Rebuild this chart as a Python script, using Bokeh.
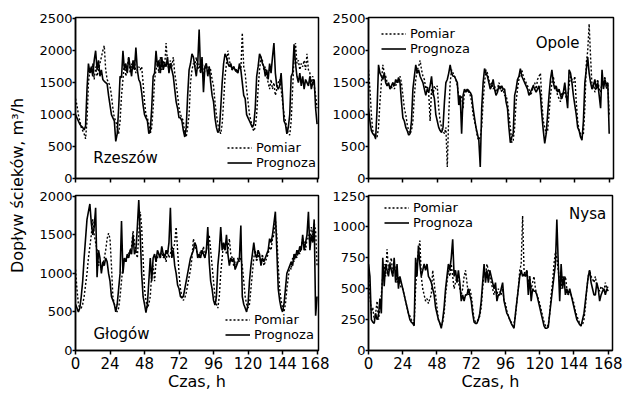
from bokeh.plotting import figure
from bokeh.models import Range1d, Label, Legend, LegendItem, FixedTicker
from bokeh.layouts import row, column
from bokeh.embed import file_html
from bokeh.resources import INLINE

FONT = "DejaVu Sans"

hour_ticks = [0, 24, 48, 72, 96, 120, 144, 168]
ticks_2500 = [0, 500, 1000, 1500, 2000, 2500]
ticks_2000 = [0, 500, 1000, 1500, 2000]
ticks_1250 = [0, 250, 500, 750, 1000, 1250]

y_title = "Dopływ ścieków, m³/h"
x_title = "Czas, h"
series_names = ["Pomiar", "Prognoza"]

rzeszow_prognoza = [
    1000, 950, 900, 850, 820, 800, 760, 820, 1400, 1800, 1650, 1750,
    1600, 1850, 2000, 1700, 1850, 1600, 1700, 1550, 1520, 1500, 1480, 1300,
    1150, 1000, 950, 900, 580, 700, 1100, 1600, 1580, 2000, 1700, 1800,
    1650, 1900, 1750, 1600, 1850, 1700, 2050, 1700, 1550, 1500, 1350, 1150,
    1000, 950, 900, 700, 750, 1100, 1600, 1650, 2000, 1750, 1850, 1650,
    1900, 1700, 1800, 1750, 1900, 1650, 1800, 1700, 1600, 1400, 1200, 1100,
    950, 950, 900, 750, 650, 800, 1300, 1700, 1800, 1950, 1900, 1750,
    1600, 1800, 2330, 1650, 1900, 1350, 1750, 1800, 1600, 1750, 1500, 1300,
    1200, 950, 800, 720, 750, 1100, 1500, 1800, 1950, 1900, 1800, 1750,
    1800, 1700, 1750, 1700, 1700, 1650, 1800, 1700, 1500, 1300, 1250, 1000,
    950, 900, 850, 800, 850, 1100, 1600, 1750, 1950, 1900, 1800, 1750,
    1600, 1700, 1550, 1800, 1650, 1900, 2120, 1650, 1450, 1400, 1450, 1650,
    1300, 900, 850, 700, 800, 1000, 1600, 1650, 2100, 1800, 1600, 1500,
    1650, 1450, 1600, 1400, 1550, 1500, 1450, 1600, 1400, 1500, 1550, 1100,
    850]

rzeszow_pomiar = [
    1250, 1150, 1000, 900, 800, 750, 700, 620, 900, 1500, 1700, 1650,
    1800, 1550, 1750, 1600, 1700, 1800, 1900, 2000, 2080, 1700, 1550, 1500,
    1450, 1300, 1100, 950, 900, 800, 700, 900, 1300, 1550, 1800, 1600,
    1750, 1900, 1650, 1800, 1700, 1850, 1650, 1700, 1750, 1700, 1750, 1500,
    1200, 1000, 950, 850, 700, 800, 1100, 1550, 1700, 1800, 1650, 1900,
    1700, 1850, 1750, 2120, 1800, 1700, 1850, 1750, 1900, 1650, 1500, 1300,
    1100, 1000, 950, 900, 700, 650, 800, 1000, 1500, 1700, 1800, 1750,
    1900, 1700, 1800, 1650, 1850, 1600, 1700, 1800, 1650, 1750, 1700, 1550,
    1450, 1200, 1000, 850, 750, 700, 850, 1200, 1600, 1800, 2000, 1850,
    1750, 1700, 1750, 1700, 1650, 1700, 1750, 1700, 2280, 1750, 1650, 1400,
    1200, 1000, 900, 800, 740, 800, 1000, 1400, 1700, 1900, 1850, 1700,
    1750, 1600, 1500, 1400, 1550, 1400, 1500, 1300, 1400, 1500, 1550, 1400,
    1200, 1000, 900, 800, 700, 680, 900, 1400, 1900, 2120, 1800, 1850,
    1700, 1800, 1750, 1850, 1700, 1950, 1700, 1650, 1500, 1600, 1450, 1300,
    1100]

opole_prognoza = [
    1100, 900, 750, 700, 680, 630, 1100, 1780, 1650, 1600, 1550, 1650,
    1500, 1450, 1500, 1400, 1450, 1500, 1450, 1550, 1500, 1580, 1500, 1200,
    950, 900, 800, 750, 680, 700, 900, 1400, 1600, 1780, 1650, 1700,
    1600, 1550, 1500, 1400, 1300, 1400, 1350, 1450, 1600, 1350, 1250, 1000,
    900, 800, 750, 720, 800, 1200, 1500, 1550, 1650, 1780, 1650, 1600,
    1600, 1550, 1500, 1150, 1300, 700, 1300, 1400, 1350, 1400, 1350, 1350,
    1300, 1100, 950, 800, 700, 600, 180, 1100, 1500, 1720, 1650, 1600,
    1500, 1400, 1450, 1550, 1400, 1300, 1350, 1450, 1400, 1450, 1400, 1400,
    1200, 1100, 800, 560, 650, 700, 1300, 1400, 1550, 1600, 1720, 1600,
    1550, 1500, 1450, 1400, 1300, 1350, 1400, 1450, 1400, 1350, 1400, 1450,
    1300, 1000, 750, 550, 700, 1000, 1300, 1550, 1700, 1500, 1400, 1450,
    1350, 1400, 1300, 1250, 1350, 1500, 1300, 1100, 1700, 1650, 1500, 1300,
    1150, 1000, 800, 750, 650, 600, 900, 1500, 1700, 1900, 1650, 1500,
    1400, 1450, 1550, 1400, 1500, 1300, 1100, 1700, 1400, 1550, 1450, 1500,
    700]

opole_pomiar = [
    1700, 1400, 1000, 750, 680, 620, 650, 800, 1200, 1500, 1780, 1650,
    1600, 1500, 1450, 1450, 1400, 1500, 1400, 1450, 1550, 1500, 1600, 1500,
    1300, 1100, 1000, 850, 750, 700, 750, 900, 1300, 1550, 1700, 1750,
    1850, 1700, 1600, 1550, 1400, 1450, 1350, 900, 1400, 1300, 1450, 1400,
    1450, 1100, 900, 800, 750, 700, 800, 180, 1000, 1500, 1700, 1650,
    1600, 1550, 1450, 1300, 1250, 1300, 1100, 1350, 1400, 1350, 1400, 1300,
    1200, 1000, 900, 800, 650, 600, 650, 800, 1200, 1500, 1700, 1650,
    1550, 1450, 1500, 1400, 1450, 1350, 1400, 1500, 1450, 1350, 1400, 1300,
    1300, 1200, 1000, 800, 560, 600, 800, 1200, 1400, 1550, 1650, 1700,
    1600, 1550, 1500, 1450, 1400, 1300, 1350, 1450, 1500, 1400, 1550, 1600,
    1650, 1200, 900, 800, 700, 750, 1000, 1300, 1500, 1600, 1450, 1400,
    1300, 1250, 1200, 1350, 1300, 1400, 1250, 1300, 1450, 1600, 1550, 1500,
    1600, 1200, 900, 750, 700, 650, 700, 1100, 1800, 2000, 2420, 1900,
    1450, 1500, 1350, 1450, 1550, 1400, 1350, 1500, 1450, 1600, 1400, 1500,
    1000]

glogow_prognoza = [
    600, 550, 500, 550, 700, 900, 1200, 1450, 1700, 1800, 1900, 1650,
    1500, 1600, 1850, 950, 1300, 1200, 1000, 1150, 1100, 1200, 1150, 1000,
    900, 700, 650, 600, 500, 600, 800, 1000, 1680, 1000, 1200, 1150,
    1250, 1200, 1300, 1250, 1500, 1250, 1300, 1600, 1950, 1500, 1000, 700,
    600, 490, 600, 900, 1200, 900, 1200, 1250, 1150, 1300, 1250, 1200,
    1350, 1250, 1200, 1300, 1250, 1400, 1850, 1200, 1300, 1100, 1000, 850,
    800, 700, 680, 700, 800, 900, 1000, 1100, 1200, 1250, 1300, 1400,
    1350, 1200, 1250, 1200, 1300, 1250, 1200, 1300, 1600, 1150, 900, 800,
    650, 590, 700, 1100, 1300, 1600, 1300, 1400, 1300, 1500, 1250, 1100,
    1200, 1150, 1200, 1050, 1100, 1150, 1200, 1620, 700, 600, 550, 500,
    600, 900, 1100, 1250, 1400, 1250, 1200, 1300, 1250, 1100, 1200, 1150,
    1200, 1250, 1300, 1450, 1400, 1500, 1650, 1800, 1300, 800, 650, 550,
    500, 600, 800, 1000, 1050, 1100, 1150, 1100, 1250, 1200, 1300, 1250,
    1350, 1300, 1500, 1300, 1400, 1500, 1800, 1300, 1500, 1400, 1700, 450,
    700]

glogow_pomiar = [
    1050, 800, 600, 550, 550, 600, 700, 850, 1000, 1200, 1350, 1500,
    1700, 1500, 1400, 1300, 1100, 1150, 1050, 1100, 1200, 1300, 1450, 1520,
    1450, 1100, 700, 600, 550, 500, 550, 700, 900, 1100, 1200, 1150,
    1200, 1250, 1300, 1350, 1550, 1400, 1300, 1200, 1500, 1800, 1600, 1200,
    800, 650, 550, 600, 700, 1000, 1100, 900, 1150, 1200, 1250, 1200,
    1300, 1200, 1250, 1150, 1300, 1200, 1250, 1350, 1300, 1400, 1600, 1300,
    1000, 800, 700, 650, 680, 750, 850, 950, 1050, 1200, 1450, 1350,
    1300, 1250, 1200, 1300, 1250, 1350, 1200, 1300, 1400, 1500, 1300, 1100,
    900, 700, 600, 550, 700, 1000, 1200, 1400, 1350, 1250, 1300, 1450,
    1250, 1200, 1100, 1150, 1100, 1200, 1150, 1200, 1100, 900, 700, 600,
    550, 600, 800, 1000, 1200, 1300, 1150, 1250, 1200, 1150, 1250, 1100,
    1150, 1200, 1250, 1350, 1300, 1450, 1500, 1700, 1500, 1100, 800, 650,
    550, 500, 600, 800, 950, 1100, 1050, 1200, 1150, 1250, 1200, 1300,
    1250, 1350, 1450, 1400, 1300, 1450, 1500, 1400, 1600, 1500, 1650, 1550,
    1100]

nysa_prognoza = [
    700, 600, 250, 230, 220, 300, 250, 280, 420, 300, 750, 520,
    700, 650, 600, 700, 650, 600, 750, 550, 700, 500, 600, 550,
    500, 450, 400, 350, 300, 250, 230, 220, 200, 750, 600, 850,
    700, 600, 650, 700, 650, 700, 600, 580, 550, 500, 450, 350,
    300, 250, 220, 180, 250, 350, 500, 600, 700, 650, 750, 900,
    600, 650, 550, 650, 550, 400, 450, 400, 450, 450, 500, 450,
    400, 300, 230, 220, 220, 250, 300, 400, 550, 700, 550, 650,
    550, 650, 600, 550, 500, 550, 400, 450, 450, 500, 550, 400,
    350, 300, 280, 250, 220, 200, 180, 300, 400, 500, 600, 650,
    600, 620, 600, 650, 450, 600, 400, 500, 480, 480, 450, 400,
    350, 300, 250, 200, 180, 180, 190, 300, 400, 500, 600, 700,
    1060, 700, 400, 700, 500, 600, 450, 500, 450, 500, 450, 400,
    350, 300, 250, 230, 210, 200, 250, 300, 400, 500, 600, 650,
    550, 500, 450, 450, 550, 500, 400, 450, 480, 500, 450, 500,
    480]

nysa_pomiar = [
    600, 450, 300, 350, 250, 300, 400, 250, 350, 450, 600, 700,
    600, 820, 650, 700, 750, 600, 700, 650, 550, 600, 550, 500,
    500, 450, 400, 350, 300, 280, 250, 230, 220, 500, 700, 800,
    890, 600, 500, 450, 400, 420, 380, 420, 450, 650, 550, 450,
    350, 250, 220, 200, 230, 300, 450, 550, 650, 600, 700, 600,
    500, 550, 600, 550, 500, 450, 500, 600, 650, 550, 450, 500,
    450, 350, 250, 230, 240, 250, 280, 350, 500, 650, 600, 700,
    650, 600, 550, 500, 450, 500, 450, 500, 480, 450, 500, 400,
    380, 320, 280, 250, 230, 200, 220, 280, 400, 500, 650, 700,
    1090, 650, 600, 650, 550, 600, 500, 550, 600, 500, 450, 420,
    380, 330, 280, 230, 200, 190, 210, 300, 450, 550, 700, 800,
    750, 650, 550, 500, 600, 550, 600, 500, 450, 480, 450, 420,
    380, 320, 280, 250, 220, 200, 210, 250, 350, 500, 600, 650,
    600, 580, 550, 600, 520, 500, 480, 520, 500, 480, 550, 500,
    520]


def make_panel(width, height, mb, x_end, y_end, y_ticks, show_x_labels):
    p = figure(width=width, height=height, output_backend="svg", toolbar_location=None,
               x_range=Range1d(0, x_end), y_range=Range1d(0, y_end),
               min_border_left=mb[0], min_border_right=mb[1],
               min_border_top=mb[2], min_border_bottom=mb[3])
    p.xgrid.visible = False
    p.ygrid.visible = False
    p.outline_line_color = "black"
    p.outline_line_width = 1.5
    p.background_fill_color = "white"
    p.border_fill_color = "white"
    p.xaxis.ticker = FixedTicker(ticks=hour_ticks)
    p.yaxis.ticker = FixedTicker(ticks=y_ticks)
    for ax in (p.xaxis[0], p.yaxis[0]):
        ax.axis_line_color = "black"
        ax.axis_line_width = 1.5
        ax.major_tick_in = 0
        ax.major_tick_out = 4
        ax.major_tick_line_color = "black"
        ax.major_tick_line_width = 1.5
        ax.minor_tick_line_color = None
        ax.major_label_text_font = FONT
        ax.major_label_text_color = "black"
    p.yaxis.major_tick_out = 3
    p.yaxis.major_label_standoff = 0
    p.yaxis.major_label_text_font_size = "13px"
    if show_x_labels:
        p.xaxis.major_label_text_font_size = "15px"
        p.xaxis.major_label_standoff = 2
        p.xaxis.axis_label = x_title
        p.xaxis.axis_label_text_font = FONT
        p.xaxis.axis_label_text_font_size = "16px"
        p.xaxis.axis_label_text_font_style = "normal"
        p.xaxis.axis_label_text_color = "black"
        p.xaxis.axis_label_standoff = 0
    else:
        # tick marks only, no labels (as in the reference's upper panels)
        p.xaxis.major_label_overrides = {t: "" for t in hour_ticks}
        p.xaxis.major_label_text_font_size = "1px"
        p.xaxis.major_label_standoff = 0
    return p


def add_series(p, pomiar, prognoza, loc):
    r1 = p.line(list(range(len(pomiar))), pomiar, line_color="black", line_width=1.4,
                line_dash="2 2")
    r2 = p.line(list(range(len(prognoza))), prognoza, line_color="black", line_width=1.6)
    leg = Legend(items=[LegendItem(label=series_names[0], renderers=[r1]),
                        LegendItem(label=series_names[1], renderers=[r2])],
                 location=loc, border_line_color=None, background_fill_alpha=0,
                 padding=0, margin=0, spacing=0, label_standoff=4,
                 glyph_width=25, glyph_height=13, label_height=13,
                 label_text_font=FONT, label_text_font_size="13px",
                 label_text_color="black")
    p.add_layout(leg)


def add_name(p, x, y, text):
    p.add_layout(Label(x=x, y=y, text=text, text_font=FONT, text_font_size="15px",
                       text_align="center", text_baseline="middle", text_color="black"))


# y-axis title column
lab = figure(width=32, height=393, output_backend="svg", toolbar_location=None,
             x_range=Range1d(0, 32), y_range=Range1d(0, 393),
             x_axis_location=None, y_axis_location=None, min_border=0)
lab.grid.visible = False
lab.outline_line_color = None
lab.add_layout(Label(x=17, y=208, text=y_title, angle=90, angle_units="deg",
                     text_align="center", text_baseline="middle", text_font=FONT,
                     text_font_size="16px", text_color="black"))

tl = make_panel(297, 185, (43, 11, 16, 7), 169, 2520, ticks_2500, False)
add_series(tl, rzeszow_pomiar, rzeszow_prognoza, (152, 8))
add_name(tl, 34.8, 327, "Rzeszów")

tr = make_panel(306, 185, (38, 22, 17, 7), 171, 2520, ticks_2500, False)
add_series(tr, opole_pomiar, opole_prognoza, (13, 122))
add_name(tr, 132, 2128, "Opole")

bl = make_panel(297, 208, (43, 11, 10, 40), 169, 2010, ticks_2000, True)
add_series(bl, glogow_pomiar, glogow_prognoza, (150, 8))
add_name(bl, 32, 220, "Głogów")

br = make_panel(306, 208, (38, 23, 10, 40), 171, 1255, ticks_1250, True)
add_series(br, nysa_pomiar, nysa_prognoza, (16, 120))
add_name(br, 153.6, 1106, "Nysa")

layout = row(lab, column(row(tl, tr), row(bl, br)))

open("out.html", "w").write(file_html(layout, INLINE))
